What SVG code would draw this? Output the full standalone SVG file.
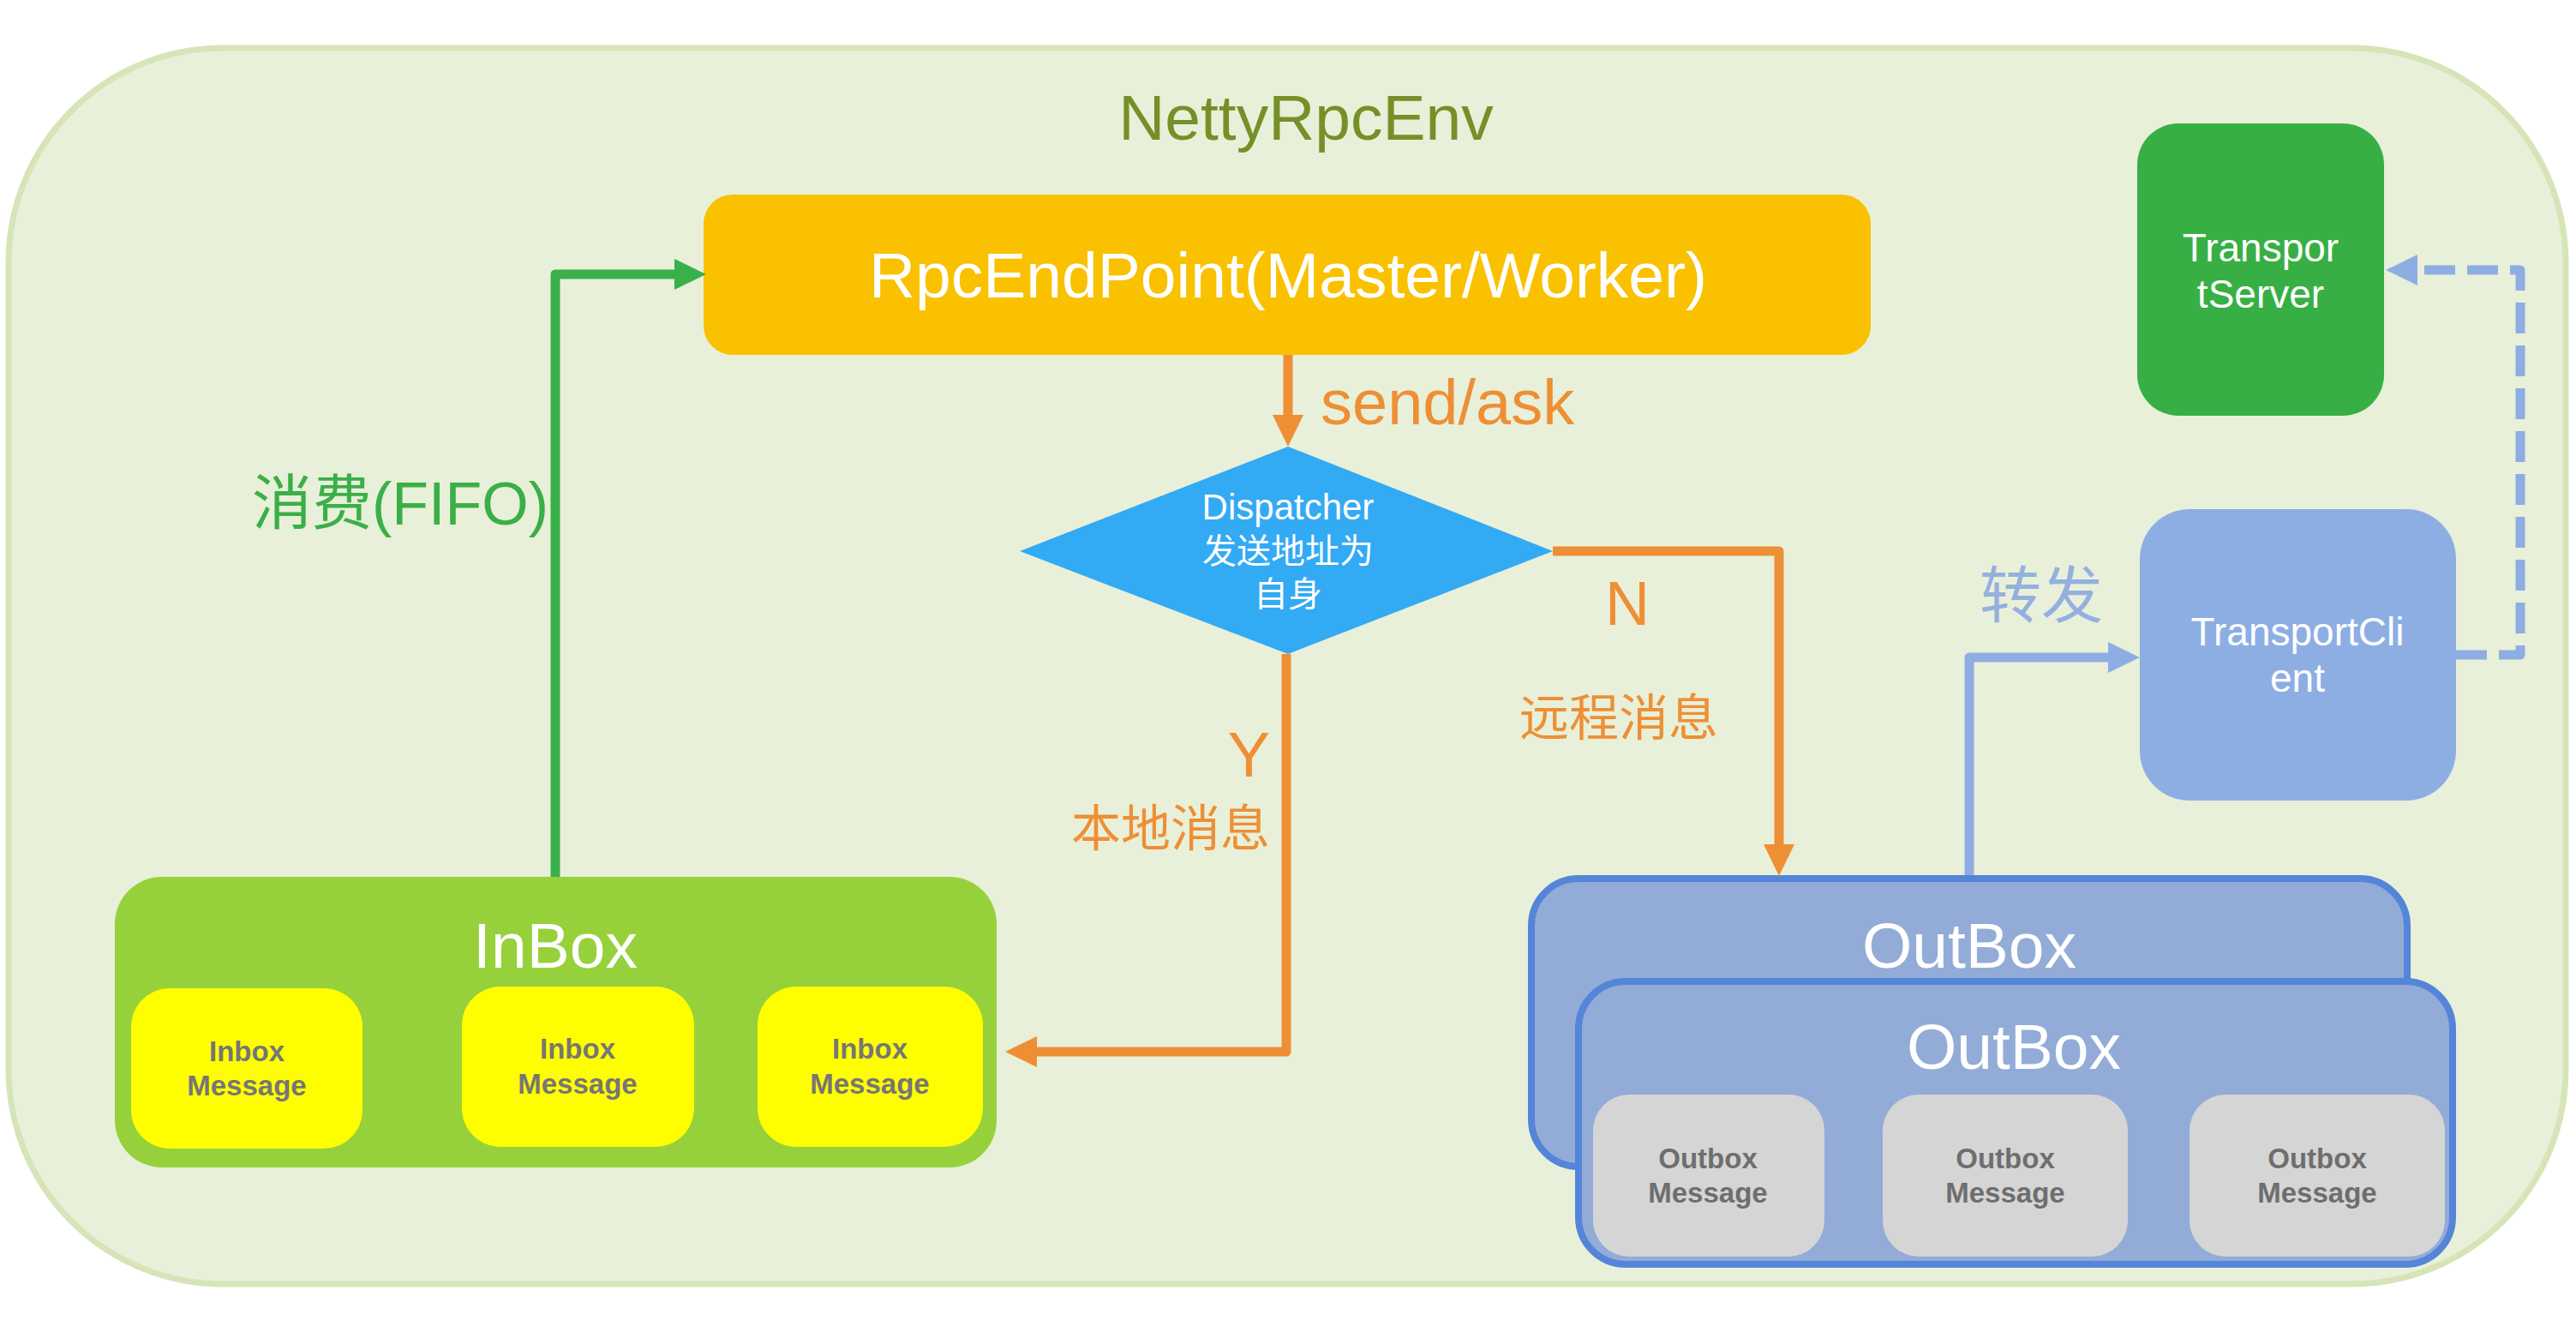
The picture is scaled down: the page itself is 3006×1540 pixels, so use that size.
<svg xmlns="http://www.w3.org/2000/svg" width="3006" height="1540" viewBox="0 0 3006 1540">
<style>
text{font-family:"Liberation Sans","Noto Sans CJK SC",sans-serif}
.white{fill:#ffffff}
.big{font-size:75px}
.msg{font-size:33px;font-weight:bold;text-anchor:middle}
.inmsg{fill:#fefe00}
.outmsg{fill:#d5d5d5}
.or{fill:#ee8f35}
.conn{fill:none;stroke-width:11;stroke-linejoin:round}
</style>
<defs>
<marker id="ahG" markerUnits="userSpaceOnUse" markerWidth="40" markerHeight="40" viewBox="0 0 40 40" refX="1" refY="20" orient="auto"><path d="M0,2 L37,20 L0,38 z" fill="#39b04a"/></marker>
<marker id="ahO" markerUnits="userSpaceOnUse" markerWidth="40" markerHeight="40" viewBox="0 0 40 40" refX="1" refY="20" orient="auto"><path d="M0,2 L37,20 L0,38 z" fill="#ee8f35"/></marker>
<marker id="ahB" markerUnits="userSpaceOnUse" markerWidth="40" markerHeight="40" viewBox="0 0 40 40" refX="1" refY="20" orient="auto"><path d="M0,2 L37,20 L0,38 z" fill="#8eaee3"/></marker>
</defs>
<rect x="0" y="0" width="3006" height="1540" fill="#ffffff"/>
<g id="env">
<rect x="10" y="56" width="2984" height="1442" rx="250" ry="250" fill="#e8f0d9" stroke="#d6e4b8" stroke-width="7"/>
<text x="1524" y="163" font-size="75" fill="#769028" text-anchor="middle">NettyRpcEnv</text>
</g>
<g id="rpcendpoint">
<rect x="821" y="227" width="1362" height="187" rx="34" fill="#f9c100"/>
<text x="1503" y="347" class="white big" text-anchor="middle">RpcEndPoint(Master/Worker)</text>
</g>
<g id="dispatcher">
<polygon points="1503,521 1812,643 1503,763 1190,643" fill="#33aaf4"/>
<text x="1503" y="606" class="white" font-size="42" text-anchor="middle">Dispatcher</text>
<text x="1503" y="657" class="white" font-size="40" text-anchor="middle">发送地址为</text>
<text x="1503" y="707" class="white" font-size="40" text-anchor="middle">自身</text>
</g>
<g id="inbox">
<rect x="134" y="1023" width="1029" height="339" rx="55" fill="#96d13c"/>
<text x="648" y="1129" class="white big" text-anchor="middle">InBox</text>
<rect class="inmsg" x="153" y="1153" width="270" height="187" rx="45"/>
<rect class="inmsg" x="539" y="1151" width="271" height="187" rx="45"/>
<rect class="inmsg" x="884" y="1151" width="263" height="187" rx="45"/>
<g fill="#767676" class="msg">
<text x="288" y="1238" class="msg">Inbox</text>
<text x="288" y="1278" class="msg">Message</text>
<text x="674" y="1235" class="msg">Inbox</text>
<text x="674" y="1276" class="msg">Message</text>
<text x="1015" y="1235" class="msg">Inbox</text>
<text x="1015" y="1276" class="msg">Message</text>
</g>
</g>
<g id="outbox-back">
<rect x="1787" y="1025" width="1022" height="336" rx="55" fill="#92acd7" stroke="#5585d8" stroke-width="8"/>
<text x="2298" y="1129" class="white big" text-anchor="middle">OutBox</text>
</g>
<g id="outbox-front">
<rect x="1842" y="1145" width="1020" height="330" rx="55" fill="#92acd7" stroke="#5585d8" stroke-width="8"/>
<text x="2350" y="1247" class="white big" text-anchor="middle">OutBox</text>
<rect class="outmsg" x="1859" y="1277" width="270" height="189" rx="42"/>
<rect class="outmsg" x="2197" y="1277" width="286" height="189" rx="42"/>
<rect class="outmsg" x="2555" y="1277" width="298" height="189" rx="42"/>
<g fill="#6e6e6e">
<text x="1993" y="1363" class="msg">Outbox</text>
<text x="1993" y="1403" class="msg">Message</text>
<text x="2340" y="1363" class="msg">Outbox</text>
<text x="2340" y="1403" class="msg">Message</text>
<text x="2704" y="1363" class="msg">Outbox</text>
<text x="2704" y="1403" class="msg">Message</text>
</g>
</g>
<g id="transportserver">
<rect x="2494" y="144" width="288" height="341" rx="48" fill="#37af44"/>
<text x="2638" y="305" class="white" font-size="46" text-anchor="middle">Transpor</text>
<text x="2638" y="359" class="white" font-size="46" text-anchor="middle">tServer</text>
</g>
<g id="transportclient">
<rect x="2497" y="594" width="369" height="340" rx="58" fill="#8daee3"/>
<text x="2681" y="753" class="white" font-size="46" text-anchor="middle">TransportCli</text>
<text x="2681" y="807" class="white" font-size="46" text-anchor="middle">ent</text>
</g>
<g id="connectors">
<path class="conn" d="M648,1023 L648,320 L788,320" stroke="#39b04a" marker-end="url(#ahG)"/>
<path class="conn" d="M1503,414 L1503,485" stroke="#ee8f35" marker-end="url(#ahO)"/>
<path class="conn" d="M1501,763 L1501,1227 L1209,1227" stroke="#ee8f35" marker-end="url(#ahO)"/>
<path class="conn" d="M1812,643 L2076,643 L2076,986" stroke="#ee8f35" marker-end="url(#ahO)"/>
<path class="conn" d="M2298,1021 L2298,767 L2461,767" stroke="#8eaee3" marker-end="url(#ahB)"/>
<path class="conn" d="M2866,764 L2941,764 L2941,315 L2820,315" stroke="#8eaee3" stroke-dasharray="36 14" marker-end="url(#ahB)"/>
<text x="640" y="612" font-size="70" fill="#3aaf48" text-anchor="end">消费(FIFO)</text>
<text x="1541" y="495" font-size="74" class="or">send/ask</text>
<text x="1873" y="729" font-size="72" class="or">N</text>
<text x="1773" y="858" font-size="58" class="or">远程消息</text>
<text x="1482" y="906" font-size="74" class="or" text-anchor="end">Y</text>
<text x="1482" y="987" font-size="58" class="or" text-anchor="end">本地消息</text>
<text x="2310" y="720" font-size="72" fill="#94b0df">转发</text>
</g>
</svg>
